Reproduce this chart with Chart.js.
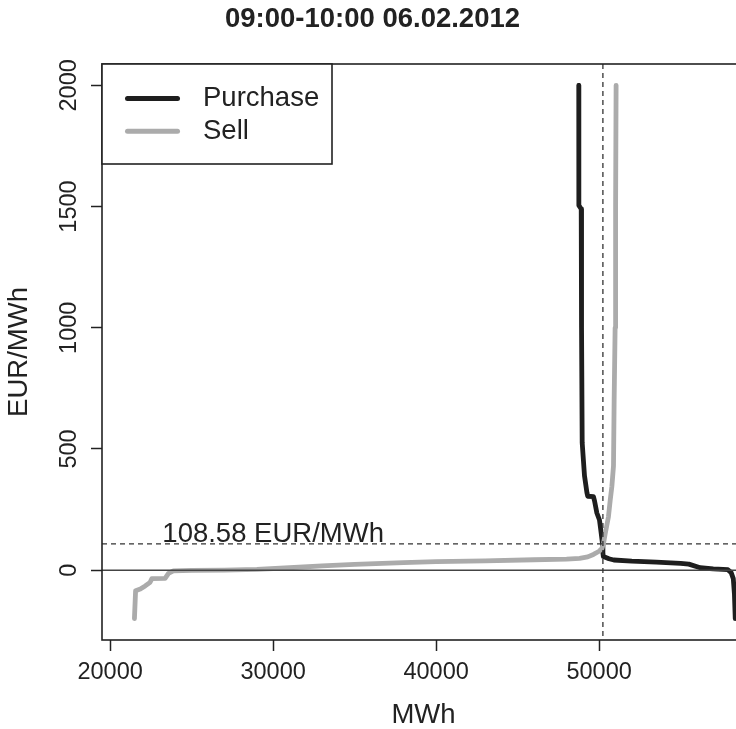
<!DOCTYPE html>
<html>
<head>
<meta charset="utf-8">
<script src="https://cdn.jsdelivr.net/npm/chart.js@4.4.1/dist/chart.umd.min.js"></script>
<style>
  html, body { margin: 0; padding: 0; overflow: hidden; background: #fff; }
  canvas { display: block; }
</style>
</head>
<body>
<canvas id="curve" width="847" height="729" style="width:847px;height:729px"></canvas>
<script>
// Curvas de compra / venta, hora 09:00-10:00 del 06.02.2012
const chartTitle = "09:00-10:00 06.02.2012";

const purchaseMwh = [48750, 48755, 48900, 48920, 48960, 49100, 49250, 49300, 49650, 49720, 49860, 50020,
  50100, 50200, 50230, 50260, 50600, 50900, 52000, 53500, 55000, 55500, 56200, 57000, 57900, 58100,
  58230, 58300, 58350];
const purchasePrice = [2000, 1505, 1490, 1000, 525, 390, 320, 305, 303, 285, 236, 207,
  166, 112, 71, 56, 47, 42, 37, 33, 28, 25, 10, 5, 2, -10,
  -35, -100, -200];

const sellMwh = [21490, 21560, 21850, 22150, 22450, 22560, 23370, 23580, 23880, 25000, 27000, 29000,
  31000, 33000, 35000, 38000, 40000, 43000, 46000, 48000, 48800, 49300, 49650, 50000, 50170, 50260,
  50370, 50570, 50680, 50780, 50880, 50920, 50980, 51010, 51040];
const sellPrice = [-200, -85, -78, -65, -50, -35, -34, -13, -3, -1, 0, 3,
  10, 18, 24, 31, 35, 38, 43, 46, 49, 55, 65, 78, 90, 108,
  150, 220, 290, 345, 430, 700, 1000, 1500, 2000];

const xTickValues = [20000, 30000, 40000, 50000];
const yTickValues = [0, 500, 1000, 1500, 2000];

const clearingPrice = 108.58;
const clearingMwh = 50230;
const priceLabel = "108.58 EUR/MWh";
const priceLabelMwh = 30000;

const FONT = "'Liberation Sans', Arial, Helvetica, sans-serif";
const INK = "#222222";

function toPoints(xs, ys) {
  return xs.map((x, i) => ({ x, y: ys[i] }));
}

// Caja, líneas de referencia, etiqueta y leyenda al estilo de R base
const rFrame = {
  id: "rFrame",
  afterDatasetsDraw(chart) {
    const { ctx, chartArea: a, scales: { x, y } } = chart;
    ctx.save();
    ctx.beginPath();
    ctx.rect(a.left, a.top, a.width, a.height);
    ctx.clip();

    const y0 = y.getPixelForValue(0);
    ctx.strokeStyle = "#444";
    ctx.lineWidth = 1.5;
    ctx.beginPath();
    ctx.moveTo(a.left, y0);
    ctx.lineTo(a.right, y0);
    ctx.stroke();

    ctx.strokeStyle = "#333";
    ctx.lineWidth = 1.3;
    ctx.setLineDash([5, 4]);
    const yp = y.getPixelForValue(clearingPrice);
    const xv = x.getPixelForValue(clearingMwh);
    ctx.beginPath();
    ctx.moveTo(a.left, yp);
    ctx.lineTo(a.right, yp);
    ctx.moveTo(xv, a.top);
    ctx.lineTo(xv, a.bottom);
    ctx.stroke();
    ctx.restore();

    ctx.save();
    ctx.strokeStyle = INK;
    ctx.lineWidth = 1.6;
    ctx.strokeRect(a.left, a.top, a.width, a.height);

    ctx.fillStyle = INK;
    ctx.font = `27.5px ${FONT}`;
    ctx.textAlign = "center";
    ctx.textBaseline = "alphabetic";
    ctx.fillText(priceLabel, x.getPixelForValue(priceLabelMwh), yp - 2);

    // leyenda
    const lw = 230, lh = 100;
    ctx.fillStyle = "#fff";
    ctx.fillRect(a.left, a.top, lw, lh);
    ctx.strokeRect(a.left, a.top, lw, lh);
    ctx.textAlign = "left";
    ctx.textBaseline = "middle";
    ctx.lineCap = "round";
    chart.data.datasets.forEach((ds, i) => {
      const ry = a.top + 34.5 + i * 32.7;
      ctx.strokeStyle = ds.borderColor;
      ctx.lineWidth = 5;
      ctx.beginPath();
      ctx.moveTo(a.left + 25.5, ry);
      ctx.lineTo(a.left + 75.5, ry);
      ctx.stroke();
      ctx.fillStyle = INK;
      ctx.fillText(ds.label, a.left + 101, ry);
    });
    ctx.restore();
  },
};

new Chart(document.getElementById("curve"), {
  type: "scatter",
  data: {
    datasets: [
      {
        label: "Purchase",
        data: toPoints(purchaseMwh, purchasePrice),
        borderColor: "#1e1e1e",
        order: 2,
      },
      {
        label: "Sell",
        data: toPoints(sellMwh, sellPrice),
        borderColor: "#ababab",
        order: 1,
      },
    ].map((d) => ({
      ...d,
      showLine: true,
      pointRadius: 0,
      borderWidth: 4.8,
      borderCapStyle: "round",
      borderJoinStyle: "round",
      tension: 0,
    })),
  },
  options: {
    responsive: false,
    devicePixelRatio: 1,
    animation: false,
    layout: { padding: { left: 0, right: 102, top: 0, bottom: 0 } },
    plugins: {
      legend: { display: false },
      tooltip: { enabled: false },
      title: {
        display: true,
        text: chartTitle,
        color: INK,
        font: { family: FONT, size: 27.5, weight: "bold", lineHeight: 1.2 },
        padding: { top: 3, bottom: 28 },
      },
    },
    scales: {
      x: {
        type: "linear",
        min: 19500,
        max: 58948,
        afterBuildTicks: (s) => { s.ticks = xTickValues.map((v) => ({ value: v })); },
        afterFit: (s) => { s.height = 89; },
        grid: { drawOnChartArea: false, drawTicks: true, tickLength: 11, tickColor: INK, tickWidth: 1.5 },
        border: { display: false },
        ticks: {
          color: INK,
          font: { family: FONT, size: 23.5 },
          padding: 7,
          maxRotation: 0,
          callback: (v) => String(v),
        },
        title: {
          display: true,
          text: "MWh",
          color: INK,
          font: { family: FONT, size: 27.5, lineHeight: 1 },
          padding: { top: 0, bottom: 0 },
        },
      },
      y: {
        type: "linear",
        min: -288,
        max: 2088,
        afterBuildTicks: (s) => { s.ticks = yTickValues.map((v) => ({ value: v })); },
        afterFit: (s) => { s.width = 102; },
        grid: { drawOnChartArea: false, drawTicks: true, tickLength: 11, tickColor: INK, tickWidth: 1.5 },
        border: { display: false },
        ticks: {
          color: INK,
          font: { family: FONT, size: 23.5 },
          padding: -5,
          minRotation: 90,
          maxRotation: 90,
          crossAlign: "center",
          callback: (v) => String(v),
        },
        title: {
          display: true,
          text: "EUR/MWh",
          color: INK,
          font: { family: FONT, size: 27.5, lineHeight: 1 },
          padding: { top: 6, bottom: 0 },
        },
      },
    },
  },
  plugins: [rFrame],
});
</script>
</body>
</html>
